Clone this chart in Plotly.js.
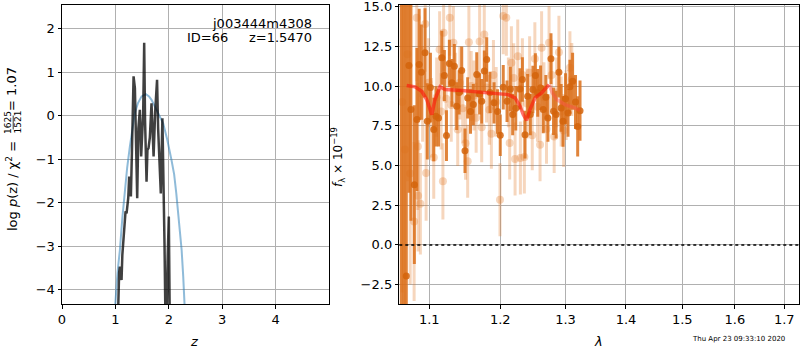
<!DOCTYPE html>
<html>
<head>
<meta charset="utf-8">
<script src="https://cdn.plot.ly/plotly-3.0.1.min.js"></script>
<style>
  html, body { margin: 0; padding: 0; background: #fff; }
  #chart { width: 800px; height: 350px; }
</style>
</head>
<body>
<div id="chart"></div>
<script>
// ---------- Left panel: log p(z) ----------
const pzZ = [1.04,1.052,1.07,1.084,1.10,1.115,1.13,1.15,1.17,1.19,1.209,1.225,1.24,1.258,1.275,1.29,1.31,1.325,1.34,1.365,1.385,1.408,1.43,1.458,1.482,1.50,1.52,1.539,1.555,1.583,1.60,1.62,1.645,1.676,1.695,1.715,1.745,1.78,1.80,1.825,1.85,1.88,1.90,1.92,1.94,1.96,1.98,2.0,2.02];
const pzLogP = [-5.0,-4.3,-3.6,-3.47,-3.6,-3.78,-3.2,-2.8,-2.5,-2.2,-2.25,-2.1,-1.9,-1.40,-1.6,-1.86,-0.8,0.1,0.9,0.63,-0.6,-1.90,-0.3,0.13,-0.94,-0.3,0.05,1.67,-0.1,-1.52,-0.79,-0.75,-0.5,0.28,-0.3,-0.94,0.1,0.82,-0.3,-0.9,-1.79,-0.06,-1.2,-3.0,-5.0,-4.4,-3.2,-2.32,-5.0];

const priorZ = [0.98,1.0,1.04,1.084,1.13,1.178,1.22,1.271,1.32,1.364,1.42,1.49,1.57,1.63,1.676,1.74,1.80,1.894,1.97,2.05,2.10,2.14,2.19,2.24,2.27,2.30,2.32];
const priorLogP = [-5,-4.3,-3.6,-3.09,-2.35,-1.71,-1.2,-0.71,-0.3,0.055,0.28,0.44,0.49,0.44,0.36,0.22,0.055,-0.18,-0.55,-1.02,-1.35,-1.79,-2.4,-3.09,-3.7,-4.31,-5];

const leftXTicks = [0,1,2,3,4];
const leftYTicks = [-4,-3,-2,-1,0,1,2];

// ---------- Right panel: spectrum ----------
const darkLam = [1.0629,1.0660,1.0694,1.0728,1.0755,1.0800,1.0834,1.0864,1.0894,1.0942,1.0973,1.1015,1.1060,1.1090,1.1125,1.1170,1.1205,1.1234,1.1274,1.1310,1.1343,1.1376,1.1410,1.1446,1.1492,1.1530,1.1570,1.1610,1.1659,1.1700,1.1730,1.1768,1.1802,1.1850,1.1909,1.1960,1.2000,1.2044,1.2100,1.2150,1.2184,1.2230,1.2294,1.2330,1.2370,1.2410,1.2450,1.2490,1.2528,1.2564,1.2608,1.2650,1.2690,1.2722,1.2770,1.2810,1.2850,1.2895,1.2930,1.2960,1.3000,1.3040,1.3070,1.3113,1.3160,1.3195,1.3233];
const darkFlux = [16.5,16.0,-1.96,11.29,8.52,3.79,7.89,11.36,10.87,12.09,7.78,9.9,7.26,8.09,7.99,11.78,10.66,6.88,11.42,10.2,11.25,8.73,9.6,10.98,5.93,9.25,8.4,8.83,10.73,9.5,9.04,10.94,11.67,9.6,8.94,8.4,6.9,9.93,9.04,9.82,8.2,8.6,9.82,10.41,6.94,9.36,8.2,9.78,10.66,9.57,9.89,8.52,9.3,7.99,11.72,8.41,8.2,10.87,8.62,7.78,9.2,8.31,9.95,10.3,9.0,7.46,8.45];
const darkErr = [21,20,18,8,7,5,4.5,3.5,3,2.8,2.4,2.2,2,1.9,1.8,1.7,1.6,1.6,1.5,1.5,1.4,1.5,1.4,1.5,1.4,1.3,1.4,1.3,1.4,1.3,1.4,1.3,1.4,1.3,1.3,1.4,1.3,1.4,1.3,1.4,1.3,1.4,1.3,1.4,1.5,1.4,1.3,1.5,1.4,1.5,1.4,1.5,1.4,1.5,1.6,1.5,1.5,1.6,1.5,1.6,1.6,1.5,1.7,1.8,1.7,1.9,1.9];

const faintLam = [1.0640,1.0675,1.0710,1.0745,1.0797,1.0832,1.0846,1.0850,1.0880,1.0910,1.0945,1.0957,1.0990,1.1030,1.1060,1.1100,1.1140,1.1160,1.1185,1.1195,1.1230,1.1280,1.1300,1.1330,1.1360,1.1390,1.1420,1.1460,1.1500,1.1530,1.1547,1.1580,1.1620,1.1650,1.1700,1.1730,1.1767,1.1800,1.1840,1.1870,1.1900,1.1940,1.1996,1.2044,1.2090,1.2120,1.2139,1.2165,1.2200,1.2220,1.2260,1.2300,1.2330,1.2360,1.2400,1.2440,1.2480,1.2520,1.2560,1.2600,1.2624,1.2660,1.2700,1.2740,1.2780,1.2820,1.2860,1.2895,1.2930,1.2970,1.3010,1.3070,1.3100];
const faintFlux = [9.0,6.0,12.0,4.5,1.47,14.3,6.2,3.09,2.59,9.5,13.9,4.52,10.2,8.0,5.5,9.3,12.3,8.4,4.0,13.36,9.2,14.3,8.8,12.73,9.8,7.26,10.2,8.6,6.4,5.26,12.76,10.0,9.4,8.0,12.8,7.4,13.25,9.9,8.5,7.0,10.7,9.0,2.84,14.4,14.3,9.6,6.42,11.46,10.5,5.41,11.88,5.47,10.7,5.53,8.9,10.83,6.9,11.72,8.7,6.31,12.41,9.3,7.3,12.73,10.7,6.83,9.6,12.13,8.4,7.2,8.8,11.15,10.41];
const faintErr = [12,10,8,7,5,4,4,3.5,3.2,3,3,3,2.8,2.5,2.6,2.5,2.4,2.4,2.4,2.4,2.3,2.4,2.3,2.3,2.3,2.3,2.3,2.2,2.3,2.3,2.3,2.2,2.2,2.2,2.3,2.2,2.3,2.2,2.2,2.2,2.2,2.2,2.3,2.4,2.4,2.2,2.3,2.3,2.2,2.3,2.3,2.3,2.3,2.3,2.2,2.3,2.2,2.3,2.2,2.3,2.3,2.2,2.2,2.3,2.2,2.3,2.2,2.3,2.2,2.3,2.2,2.3,2.3];

const modelLam = [1.0699,1.0809,1.0898,1.0965,1.1033,1.1080,1.1146,1.1214,1.1446,1.1682,1.1923,1.2119,1.2220,1.2294,1.2344,1.2395,1.2445,1.2522,1.2624,1.2739];
const modelFlux = [10.03,9.95,9.67,9.15,8.2,9.2,9.95,9.78,9.72,9.63,9.51,9.46,9.25,8.73,8.2,7.84,8.52,9.25,9.57,10.09];
const modelTailLam = [1.2739,1.2791,1.2860,1.2990,1.3151,1.3232];
const modelTailFlux = [10.09,9.57,9.15,8.83,8.62,8.47];

const rightXTicks = [1.1,1.2,1.3,1.4,1.5,1.6,1.7];
const rightYTicks = [-2.5,0,2.5,5,7.5,10,12.5,15];

const fieldName = 'j003444m4308';
const objInfo = 'ID=66     z=1.5470';
const stamp = 'Thu Apr 23 09:33:10 2020';

// ---------- Traces ----------
const FONT = 'DejaVu Sans, Liberation Sans, sans-serif';
const traces = [
  { x: priorZ, y: priorLogP, xaxis: 'x', yaxis: 'y', mode: 'lines',
    line: { color: 'rgba(31,119,180,0.5)', width: 2 }, hoverinfo: 'skip' },
  { x: pzZ, y: pzLogP, xaxis: 'x', yaxis: 'y', mode: 'lines',
    line: { color: 'rgba(0,0,0,0.75)', width: 2.5 }, hoverinfo: 'skip' },
  { x: faintLam, y: faintFlux, xaxis: 'x2', yaxis: 'y2', mode: 'markers',
    marker: { color: 'rgba(225,118,38,0.3)', size: 8 },
    error_y: { type: 'data', array: faintErr, visible: true, thickness: 3, width: 0, color: 'rgba(225,118,38,0.3)' },
    cliponaxis: true, hoverinfo: 'skip' },
  { x: darkLam, y: darkFlux, xaxis: 'x2', yaxis: 'y2', mode: 'markers',
    marker: { color: 'rgba(212,100,12,0.85)', size: 7 },
    error_y: { type: 'data', array: darkErr, visible: true, thickness: 3, width: 0, color: 'rgba(218,110,25,0.85)' },
    cliponaxis: true, hoverinfo: 'skip' },
  { x: modelLam, y: modelFlux, xaxis: 'x2', yaxis: 'y2', mode: 'lines',
    line: { color: 'rgba(255,20,10,0.6)', width: 3.5 }, hoverinfo: 'skip' },
  { x: modelTailLam, y: modelTailFlux, xaxis: 'x2', yaxis: 'y2', mode: 'lines',
    line: { color: 'rgba(255,70,70,0.4)', width: 3.5 }, hoverinfo: 'skip' }
];

const axisCommon = {
  showline: true, mirror: true, linecolor: '#000', linewidth: 1,
  ticks: 'outside', ticklen: 3.5, tickwidth: 1, tickcolor: '#000',
  showgrid: true, gridcolor: '#b0b0b0', gridwidth: 1, zeroline: false,
  ticklabeloverflow: 'allow',
  tickfont: { family: FONT, size: 13, color: '#000' }
};

const yTop = 1 - 5 / 350, yBot = 1 - 304 / 350;
const px = v => v / 800, py = v => 1 - v / 350;

const layout = {
  width: 800, height: 350,
  margin: { l: 0, r: 0, t: 0, b: 0 },
  paper_bgcolor: '#fff', plot_bgcolor: '#fff',
  showlegend: false,
  font: { family: FONT, color: '#000' },
  xaxis: Object.assign({}, axisCommon, { domain: [62 / 800, 328.5 / 800], anchor: 'y',
    range: [0, 4.99], tickmode: 'array', tickvals: leftXTicks }),
  yaxis: Object.assign({}, axisCommon, { domain: [yBot, yTop], anchor: 'x',
    range: [-4.33, 2.54], tickmode: 'array', tickvals: leftYTicks }),
  xaxis2: Object.assign({}, axisCommon, { domain: [399.3 / 800, 799 / 800], anchor: 'y2',
    type: 'log', range: [0.02541, 0.23828], tickmode: 'array', tickvals: rightXTicks,
    ticktext: rightXTicks.map(v => v.toFixed(1)) }),
  yaxis2: Object.assign({}, axisCommon, { domain: [yBot, yTop], anchor: 'x2',
    range: [-3.72, 15.1], tickmode: 'array', tickvals: rightYTicks, tickformat: '.1f' }),
  shapes: [
    { type: 'line', xref: 'x2 domain', x0: 0, x1: 1, yref: 'y2', y0: 0, y1: 0,
      line: { color: '#000', width: 1.5, dash: 'dot' } },
    { type: 'line', xref: 'paper', yref: 'paper', x0: px(13.2), x1: px(13.2), y0: py(129.5), y1: py(115.5),
      line: { color: '#000', width: 0.8 } }
  ],
  annotations: [
    { text: fieldName, xref: 'paper', yref: 'paper', x: px(313.5), y: py(23), xanchor: 'right', yanchor: 'middle',
      showarrow: false, font: { family: FONT, size: 13, color: '#000' } },
    { text: objInfo.replace(/ /g, '&nbsp;'), xref: 'paper', yref: 'paper', x: px(313.5), y: py(38), xanchor: 'right', yanchor: 'middle',
      showarrow: false, font: { family: FONT, size: 13, color: '#000' } },
    // left y title (stacked fraction)
    { text: 'log <i>p</i>(z) / χ<sup>2</sup> =', xref: 'paper', yref: 'paper', x: px(12), y: py(186), textangle: -90,
      xanchor: 'center', yanchor: 'middle', showarrow: false, font: { family: FONT, size: 13, color: '#000' } },
    { text: '1625', xref: 'paper', yref: 'paper', x: px(8.5), y: py(122.5), textangle: -90,
      xanchor: 'center', yanchor: 'middle', showarrow: false, font: { family: FONT, size: 9, color: '#000' } },
    { text: '1521', xref: 'paper', yref: 'paper', x: px(18), y: py(122.5), textangle: -90,
      xanchor: 'center', yanchor: 'middle', showarrow: false, font: { family: FONT, size: 9, color: '#000' } },
    { text: '= 1.07', xref: 'paper', yref: 'paper', x: px(12), y: py(89), textangle: -90,
      xanchor: 'center', yanchor: 'middle', showarrow: false, font: { family: FONT, size: 13, color: '#000' } },
    // x titles
    { text: '<i>z</i>', xref: 'paper', yref: 'paper', x: px(194), y: py(341), xanchor: 'center', yanchor: 'middle',
      showarrow: false, font: { family: FONT, size: 13, color: '#000' } },
    { text: '<i>λ</i>', xref: 'paper', yref: 'paper', x: px(598), y: py(341), xanchor: 'center', yanchor: 'middle',
      showarrow: false, font: { family: FONT, size: 13, color: '#000' } },
    // right y title
    { text: '<i>f</i><sub>λ</sub> × 10<sup>−19</sup>', xref: 'paper', yref: 'paper', x: px(338), y: py(157), textangle: -90,
      xanchor: 'center', yanchor: 'middle', showarrow: false, font: { family: FONT, size: 12, color: '#000' } },
    // timestamp
    { text: stamp, xref: 'paper', yref: 'paper', x: px(787), y: py(339), xanchor: 'right', yanchor: 'middle',
      showarrow: false, font: { family: FONT, size: 7, color: '#000' } }
  ]
};

Plotly.newPlot('chart', traces, layout, { staticPlot: true, displayModeBar: false });
</script>
</body>
</html>
